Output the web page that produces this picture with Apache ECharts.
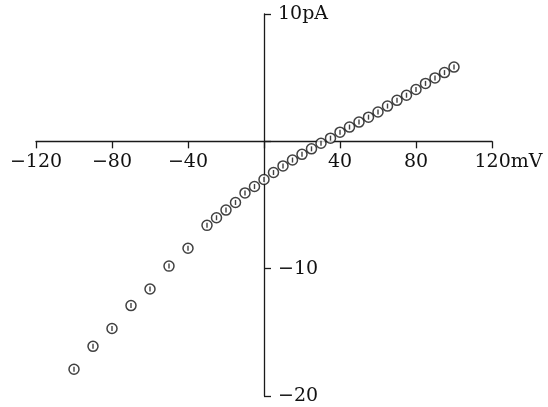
<!DOCTYPE html>
<html>
<head>
<meta charset="utf-8">
<script src="https://cdn.jsdelivr.net/npm/echarts@6/dist/echarts.min.js"></script>
<style>
html,body{margin:0;padding:0;background:#fff;}
#c{width:548px;height:407px;}
</style>
</head>
<body>
<div id="c"></div>
<script>
const voltages = [-100,-90,-80,-70,-60,-50,-40,-30,-25,-20,-15,-10,-5,0,5,10,15,20,25,30,35,40,45,50,55,60,65,70,75,80,85,90,95,100];
const currents = [-17.9,-16.1,-14.7,-12.9,-11.6,-9.8,-8.4,-6.6,-6.0,-5.4,-4.8,-4.05,-3.55,-3.0,-2.45,-1.93,-1.47,-1.02,-0.59,-0.15,0.25,0.72,1.12,1.51,1.9,2.3,2.77,3.22,3.62,4.07,4.55,4.98,5.4,5.83];
const xTicks = [-120,-80,-40,0,40,80,120];
const yTicks = [-20,-10,0,10];
const xUnit = 'mV';
const yUnit = 'pA';

const points = voltages.map((v,i)=>[v,currents[i]]);
const FONT = 'DejaVu Serif';
const fmtNum = v => (v<0 ? '\u2212' + Math.abs(v) : String(v));
const xMin = xTicks[0], xMax = xTicks[xTicks.length-1];
const yMin = yTicks[0], yMax = yTicks[yTicks.length-1];

const chart = echarts.init(document.getElementById('c'), null, {renderer:'canvas'});
chart.setOption({
  backgroundColor:'#fff',
  animation:false,
  grid:{left:36,right:56,top:14,bottom:11,containLabel:false,outerBoundsMode:'none'},
  xAxis:{
    type:'value',
    min:xMin, max:xMax, interval:40,
    position:'bottom',
    offset:0,
    splitLine:{show:false},
    axisLine:{onZero:false,lineStyle:{color:'#1a1a1a',width:1.3}},
    axisTick:{show:true,inside:false,length:7,lineStyle:{color:'#1a1a1a',width:1.3}},
    axisLabel:{
      margin:11,
      color:'#111',
      fontFamily:FONT,
      fontSize:19,
      showMinLabel:true, showMaxLabel:true,
      formatter:function(v){
        if(v===0) return '';
        if(v===xMax) return '{u|' + fmtNum(v) + xUnit + '}';
        return fmtNum(v);
      },
      rich:{u:{fontFamily:FONT,fontSize:19,color:'#111',padding:[0,0,0,33]}}
    }
  },
  yAxis:{
    type:'value',
    min:yMin, max:yMax, interval:10,
    position:'left',
    offset:0,
    splitLine:{show:false},
    axisLine:{onZero:false,lineStyle:{color:'#1a1a1a',width:1.3}},
    axisTick:{show:true,inside:true,length:7,lineStyle:{color:'#1a1a1a',width:1.3}},
    axisLabel:{
      inside:true,
      margin:14,
      color:'#111',
      fontFamily:FONT,
      fontSize:19,
      showMinLabel:true, showMaxLabel:true,
      formatter:function(v){
        if(v===0) return '';
        if(v===yMax) return fmtNum(v) + yUnit;
        return fmtNum(v);
      }
    }
  },
  series:[
    {
      type:'scatter',
      data:points,
      symbol:'circle',
      symbolSize:10,
      itemStyle:{color:'#fff',borderColor:'#111',borderWidth:1.5},
      z:3
    },
    {
      type:'scatter',
      data:points,
      symbol:'rect',
      symbolSize:[1.4,5],
      itemStyle:{color:'#111'},
      z:4,
      silent:true
    }
  ]
});
// Move the axes so they cross at the origin, using the library's own scales.
const pZero = chart.convertToPixel({gridIndex:0},[0,0]);
const pCorner = chart.convertToPixel({gridIndex:0},[xMin,yMin]);
chart.setOption({
  xAxis:{offset:-(pCorner[1]-pZero[1])},
  yAxis:{offset:-(pZero[0]-pCorner[0])}
});
</script>
</body>
</html>
